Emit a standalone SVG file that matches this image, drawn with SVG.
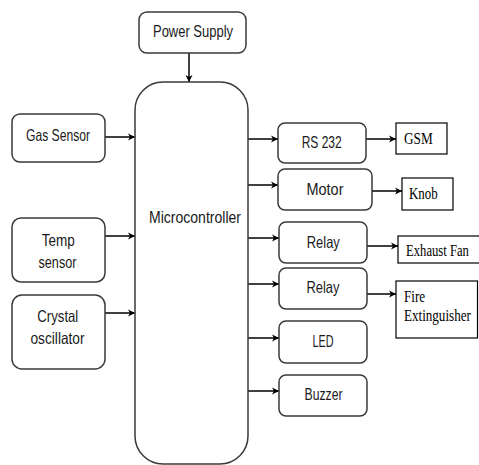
<svg xmlns="http://www.w3.org/2000/svg" width="479" height="465" viewBox="0 0 479 465">
<defs>
<marker id="ah" markerWidth="8" markerHeight="8" refX="7" refY="4" orient="auto" markerUnits="userSpaceOnUse">
<path d="M0,0.5 L7,4 L0,7.5 L2,4 Z" fill="#000"/>
</marker>
<style>
.rb{fill:#fff;stroke:#3a3a3a;stroke-width:1.5}
.sb{fill:#fff;stroke:#000;stroke-width:1.2}
.t{font-family:"Liberation Sans",Arial,sans-serif;font-size:16.5px;fill:#1a1a1a;text-anchor:middle}
.s{font-family:"Liberation Serif","Times New Roman",serif;font-size:17px;fill:#000}
.c{stroke:#000;stroke-width:1.5;fill:none;marker-end:url(#ah)}
</style>
</defs>
<rect width="479" height="465" fill="#fff"/>
<g id="connectors">
<line class="c" x1="189" y1="53" x2="189" y2="82"/>
<line class="c" x1="105" y1="137" x2="135" y2="137"/>
<line class="c" x1="105" y1="236" x2="135" y2="236"/>
<line class="c" x1="105" y1="313" x2="135" y2="313"/>
<line class="c" x1="248" y1="139" x2="278" y2="139"/>
<line class="c" x1="248" y1="185" x2="278" y2="185"/>
<line class="c" x1="248" y1="238" x2="279" y2="238"/>
<line class="c" x1="248" y1="284" x2="279" y2="284"/>
<line class="c" x1="248" y1="338" x2="279" y2="338"/>
<line class="c" x1="248" y1="391" x2="279" y2="391"/>
<line class="c" x1="366" y1="139" x2="396" y2="139"/>
<line class="c" x1="372" y1="191" x2="402" y2="191"/>
<line class="c" x1="367" y1="246" x2="398" y2="246"/>
<line class="c" x1="367" y1="294" x2="396" y2="294"/>
</g>
<g id="power"><rect class="rb" x="139" y="12" width="107" height="41" rx="8"/><text class="t" x="193" y="37" textLength="80" lengthAdjust="spacingAndGlyphs">Power Supply</text></g>
<g id="mcu"><rect class="rb" x="135" y="82" width="113" height="382" rx="28"/><text class="t" x="195" y="223" textLength="92" lengthAdjust="spacingAndGlyphs">Microcontroller</text></g>
<g id="gas"><rect class="rb" x="12" y="114" width="93" height="48" rx="8"/><text class="t" x="58" y="141" textLength="64" lengthAdjust="spacingAndGlyphs">Gas Sensor</text></g>
<g id="temp"><rect class="rb" x="12" y="218" width="93" height="64" rx="9"/><text class="t" x="58.3" y="246" textLength="33" lengthAdjust="spacingAndGlyphs">Temp</text><text class="t" x="57.5" y="268" textLength="38" lengthAdjust="spacingAndGlyphs">sensor</text></g>
<g id="crystal"><rect class="rb" x="12" y="295" width="93" height="74" rx="10"/><text class="t" x="57.8" y="322" textLength="41" lengthAdjust="spacingAndGlyphs">Crystal</text><text class="t" x="57.5" y="344" textLength="54" lengthAdjust="spacingAndGlyphs">oscillator</text></g>
<g id="rs232"><rect class="rb" x="278" y="123" width="88" height="40" rx="7"/><text class="t" x="321.7" y="148" textLength="40" lengthAdjust="spacingAndGlyphs">RS 232</text></g>
<g id="motor"><rect class="rb" x="278" y="169" width="94" height="41" rx="7"/><text class="t" x="325" y="195" textLength="37" lengthAdjust="spacingAndGlyphs">Motor</text></g>
<g id="relay1"><rect class="rb" x="279" y="222" width="88" height="41" rx="7"/><text class="t" x="323.3" y="248" textLength="33" lengthAdjust="spacingAndGlyphs">Relay</text></g>
<g id="relay2"><rect class="rb" x="279" y="268" width="88" height="41" rx="7"/><text class="t" x="323" y="293" textLength="33" lengthAdjust="spacingAndGlyphs">Relay</text></g>
<g id="led"><rect class="rb" x="279" y="321" width="88" height="42" rx="7"/><text class="t" x="323" y="347" textLength="21" lengthAdjust="spacingAndGlyphs">LED</text></g>
<g id="buzzer"><rect class="rb" x="279" y="375" width="88" height="41" rx="7"/><text class="t" x="323.5" y="400" textLength="38" lengthAdjust="spacingAndGlyphs">Buzzer</text></g>
<g id="gsm"><rect class="sb" x="396" y="123" width="51" height="31"/><text class="s" transform="translate(404,144) scale(0.78,1)">GSM</text></g>
<g id="knob"><rect class="sb" x="402" y="178" width="51" height="32"/><text class="s" transform="translate(409,199) scale(0.76,1)">Knob</text></g>
<g id="exhaust"><rect class="sb" x="398" y="236" width="83" height="27"/><text class="s" transform="translate(406,256) scale(0.745,1)">Exhaust Fan</text></g>
<g id="fire"><rect class="sb" x="396" y="281" width="81.5" height="57"/><text class="s" transform="translate(404,302) scale(0.77,1)">Fire</text><text class="s" transform="translate(404,321) scale(0.77,1)">Extinguisher</text></g>
</svg>
